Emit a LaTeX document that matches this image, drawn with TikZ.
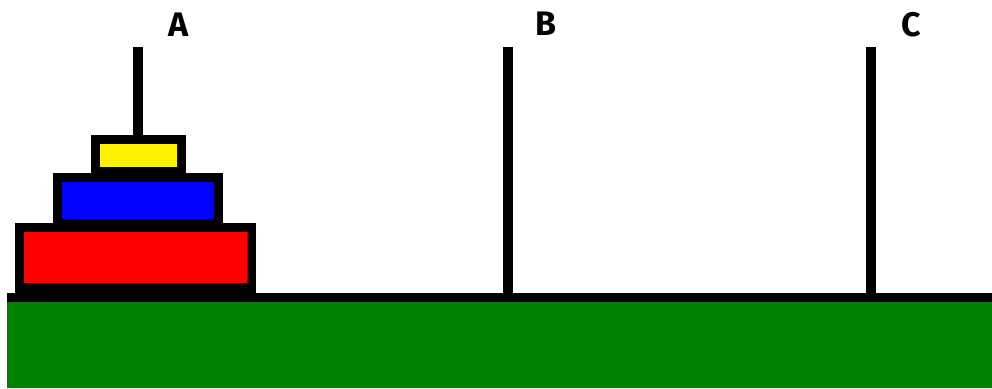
\documentclass[tikz,border=0pt]{standalone}
\usepackage{fontspec}
\setsansfont{Fira Sans}
\usepackage{tikz}

\definecolor{grass}{RGB}{0,128,0}

\begin{document}
\begin{tikzpicture}[x=1pt, y=-1pt,
	peg/.style={fill=black},
	disc/.style={draw=black, line width=9pt},
	tag/.style={font=\sffamily\bfseries\fontsize{34}{34}\selectfont, inner sep=0pt}]
	\useasboundingbox (0,0) rectangle (992,388);
	% ground and base
	\fill[grass] (7,302) rectangle (992,388);
	\fill[black] (7,293) rectangle (992,302);
	% pegs
	\fill[peg] (133,47) rectangle (143,293);
	\fill[peg] (503,47) rectangle (513,293);
	\fill[peg] (866,47) rectangle (876,293);
	% discs on A
	\fill[black] (15,280) rectangle (256,294);
	\draw[disc, fill=red] (19.5,227.5) rectangle (251.5,287.5);
	\draw[disc, fill=blue] (57,177) rectangle (218,223.5);
	\draw[disc, fill=yellow] (95.5,139.5) rectangle (181.5,171.5);
	% labels
	\node[tag] (labA) at (179,25) {A};
	\node[tag] (labB) at (546,24) {B};
	\node[tag] (labC) at (911,25) {C};
\end{tikzpicture}
\end{document}
